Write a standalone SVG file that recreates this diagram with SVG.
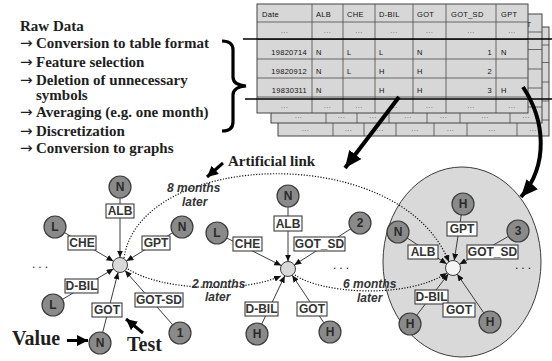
<svg xmlns="http://www.w3.org/2000/svg" xmlns:xlink="http://www.w3.org/1999/xlink" width="552" height="361" viewBox="0 0 552 361">
<style>
.bt{font-family:"Liberation Serif","Times New Roman",serif;font-weight:bold;fill:#1e1e1e}
.st{font-size:15px}
.ar{font-family:"DejaVu Sans",sans-serif;font-weight:normal;font-size:15px}
.tt{font-family:"Liberation Sans",Arial,sans-serif;font-size:7.5px;fill:#111;letter-spacing:0.3px}
.te{font-family:"Liberation Sans",Arial,sans-serif;font-size:7.5px;fill:#111;letter-spacing:0.3px;text-anchor:end}
.td{font-family:"Liberation Sans",Arial,sans-serif;font-size:7.5px;fill:#666;text-anchor:middle;letter-spacing:0.4px}
.conn{stroke:#3c3c3c;stroke-width:1;fill:none;marker-end:url(#ah)}
.dot{stroke:#111;stroke-width:1.2;fill:none;stroke-dasharray:1.2 1.6;marker-end:url(#ah)}
.box{fill:#fff;stroke:#3c3c3c;stroke-width:1.1}
.bl{font-family:"Liberation Sans",Arial,sans-serif;font-weight:bold;font-size:12px;fill:#333;text-anchor:middle}
.nd{fill:#8a8a8a;stroke:#3c3c3c;stroke-width:1.2}
.nl{font-family:"Liberation Sans",Arial,sans-serif;font-weight:bold;font-size:12px;fill:#2a2a2a;text-anchor:middle}
.hub{fill:#d9d9d9;stroke:#3c3c3c;stroke-width:1}
.it{font-family:"Liberation Sans",Arial,sans-serif;font-weight:bold;font-style:italic;font-size:12px;fill:#333}
.el{font-family:"Liberation Sans",Arial,sans-serif;font-size:12px;fill:#111;letter-spacing:3px}
</style>
<defs>
<marker id="ah" markerUnits="userSpaceOnUse" markerWidth="7" markerHeight="6" refX="7" refY="3" orient="auto"><path d="M0,0L7,3L0,6z" fill="#111"/></marker>
<marker id="big" markerUnits="userSpaceOnUse" markerWidth="18" markerHeight="15" refX="17" refY="7.5" orient="auto"><path d="M0,0L17,7.5L0,15z" fill="#000"/></marker>
<marker id="med" markerUnits="userSpaceOnUse" markerWidth="12" markerHeight="11" refX="11" refY="5.5" orient="auto"><path d="M0,0L11,5.5L0,11z" fill="#000"/></marker>
<g id="grid">
<rect x="257" y="4" width="271" height="109" fill="#d7d7d7" stroke="#444" stroke-width="1"/>
<path d="M312,4V113M343,4V113M375,4V113M413,4V113M446,4V113M496,4V113M257,22H528M257,39.5H528M257,59H528M257,78H528M257,97H528" stroke="#4a4a4a" stroke-width="0.8" fill="none"/>
<text class="tt" y="17"><tspan x="262">Date</tspan><tspan x="316">ALB</tspan><tspan x="347">CHE</tspan><tspan x="379">D-BIL</tspan><tspan x="417">GOT</tspan><tspan x="451">GOT_SD</tspan><tspan x="501">GPT</tspan></text>
<text class="td" y="33"><tspan x="284.5">...</tspan><tspan x="327.5">...</tspan><tspan x="359">...</tspan><tspan x="394">...</tspan><tspan x="429.5">...</tspan><tspan x="471">...</tspan><tspan x="512">...</tspan></text>
<text class="td" y="107.5"><tspan x="284.5">...</tspan><tspan x="327.5">...</tspan><tspan x="359">...</tspan><tspan x="394">...</tspan><tspan x="429.5">...</tspan><tspan x="471">...</tspan><tspan x="512">...</tspan></text>
</g>
</defs>

<g id="raw-data-text">
<text class="bt st" x="20" y="31">Raw Data</text>
<text class="bt st" y="48"><tspan class="ar" x="20">→</tspan><tspan x="36">Conversion to table format</tspan></text>
<text class="bt st" y="66.5"><tspan class="ar" x="20">→</tspan><tspan x="36">Feature selection</tspan></text>
<text class="bt st" y="85"><tspan class="ar" x="20">→</tspan><tspan x="36">Deletion of unnecessary</tspan><tspan x="36" y="99.5">symbols</tspan></text>
<text class="bt st" y="117"><tspan class="ar" x="20">→</tspan><tspan x="36">Averaging (e.g. one month)</tspan></text>
<text class="bt st" y="136"><tspan class="ar" x="20">→</tspan><tspan x="36">Discretization</tspan></text>
<text class="bt st" y="153"><tspan class="ar" x="20">→</tspan><tspan x="36">Conversion to graphs</tspan></text>
</g>

<g id="brace">
<path d="M222,41 Q233,41 233,50 L233,77 Q233,85 246,86 Q233,87 233,95 L233,122 Q233,131 222,131" fill="none" stroke="#000" stroke-width="3.2"/>
</g>

<g id="tables">
<use xlink:href="#grid" transform="translate(21,23)"/>
<use xlink:href="#grid" transform="translate(14,10)"/>
<use xlink:href="#grid"/>
<text class="te" x="307" y="55">19820714</text>
<text class="te" x="307" y="74">19820912</text>
<text class="te" x="307" y="93">19830311</text>
<text class="tt" y="55"><tspan x="316">N</tspan><tspan x="347">L</tspan><tspan x="379">L</tspan><tspan x="417">N</tspan><tspan x="501">N</tspan></text>
<text class="tt" y="74"><tspan x="316">N</tspan><tspan x="347">L</tspan><tspan x="379">H</tspan><tspan x="417">H</tspan></text>
<text class="tt" y="93"><tspan x="316">N</tspan><tspan x="379">H</tspan><tspan x="417">H</tspan><tspan x="501">H</tspan></text>
<text class="te" x="492" y="55">1</text>
<text class="te" x="492" y="74">2</text>
<text class="te" x="492" y="93">3</text>
<path d="M243,39H552M245,99H552" stroke="#000" stroke-width="1.6"/>
</g>

<g id="graph3-area">
<ellipse cx="462" cy="262" rx="79" ry="95" fill="#d9d9d9" stroke="#3c3c3c" stroke-width="1"/>
</g>

<g id="connectors">
<path d="M399,97 L345,168" stroke="#000" stroke-width="4" fill="none" marker-end="url(#big)"/>
<path d="M523,87 C545,120 549,165 521,197" stroke="#000" stroke-width="4" fill="none" marker-end="url(#big)"/>
<path d="M223,163 L207,177" stroke="#000" stroke-width="3" marker-end="url(#med)"/>
<path d="M67,340.5 L88,340.5" stroke="#000" stroke-width="3" marker-end="url(#med)"/>
<path d="M143,333 L126,319" stroke="#000" stroke-width="3" marker-end="url(#med)"/>
<path class="dot" d="M124,258 C140,150 400,140 449,262"/>
<path class="dot" d="M128,269 C160,290 240,294 281,276"/>
<path class="dot" d="M295,275 C320,293 405,300 447,273"/>
<line class="conn" x1="120" y1="198" x2="120" y2="257.5"/>
<line class="conn" x1="64.5" y1="232.6" x2="113.5" y2="261.2"/>
<line class="conn" x1="172.6" y1="232.8" x2="126.4" y2="261.1"/>
<line class="conn" x1="62.4" y1="299.4" x2="113.6" y2="268.8"/>
<line class="conn" x1="102.7" y1="332.3" x2="118.1" y2="272.3"/>
<line class="conn" x1="172.7" y1="324.8" x2="125" y2="270.6"/>
<line class="conn" x1="288" y1="207" x2="288" y2="261.5"/>
<line class="conn" x1="226.8" y1="238" x2="281.3" y2="265.6"/>
<line class="conn" x1="350.7" y1="228.9" x2="294.3" y2="265"/>
<line class="conn" x1="261.7" y1="324.1" x2="284.8" y2="275.8"/>
<line class="conn" x1="323.9" y1="322.8" x2="292.2" y2="275.2"/>
<line class="conn" x1="461.3" y1="214.9" x2="454.2" y2="260.6"/>
<line class="conn" x1="407.2" y1="238" x2="446.7" y2="263.9"/>
<line class="conn" x1="508.4" y1="236.4" x2="459.5" y2="264.3"/>
<line class="conn" x1="416.7" y1="315.3" x2="448.4" y2="273.9"/>
<line class="conn" x1="483.8" y1="312.9" x2="457.2" y2="274.2"/>
</g>

<g id="labels">
<text class="bt st" x="228" y="166">Artificial link</text>
<text class="it" x="167" y="192">8 months</text>
<text class="it" x="182" y="206">later</text>
<text class="it" x="192" y="288">2 months</text>
<text class="it" x="205" y="301">later</text>
<text class="it" x="343" y="288">6 months</text>
<text class="it" x="357" y="302">later</text>
<text class="bt" x="12" y="345" font-size="20">Value</text>
<text class="bt" x="127" y="351" font-size="20">Test</text>
<text class="el" x="32" y="268">...</text>
<text class="el" x="333" y="269">...</text>
<text class="el" x="515" y="269">...</text>
</g>

<g id="graph1">
<circle class="hub" cx="120" cy="265" r="7.5"/>
<g id="g1-alb"><rect class="box" x="106" y="204" width="28" height="14"/><text class="bl" x="120" y="215.3">ALB</text></g>
<g id="g1-che"><rect class="box" x="68" y="236" width="28" height="14"/><text class="bl" x="82" y="247.3">CHE</text></g>
<g id="g1-gpt"><rect class="box" x="142" y="236" width="28" height="14"/><text class="bl" x="156" y="247.3">GPT</text></g>
<g id="g1-dbil"><rect class="box" x="65" y="279" width="33" height="14"/><text class="bl" x="81.5" y="290.3">D-BIL</text></g>
<g id="g1-got"><rect class="box" x="92" y="303" width="30" height="14"/><text class="bl" x="107" y="314.3">GOT</text></g>
<g id="g1-gotsd"><rect class="box" x="135" y="293" width="48" height="14"/><text class="bl" x="159" y="304.3">GOT-SD</text></g>
<g id="g1-n1"><circle class="nd" cx="120" cy="187" r="11"/><text class="nl" x="120" y="191.3">N</text></g>
<g id="g1-l1"><circle class="nd" cx="55" cy="227" r="11"/><text class="nl" x="55" y="231.3">L</text></g>
<g id="g1-n2"><circle class="nd" cx="182" cy="227" r="11"/><text class="nl" x="182" y="231.3">N</text></g>
<g id="g1-l2"><circle class="nd" cx="53" cy="305" r="11"/><text class="nl" x="53" y="309.3">L</text></g>
<g id="g1-n3"><circle class="nd" cx="100" cy="343" r="11"/><text class="nl" x="100" y="347.3">N</text></g>
<g id="g1-1"><circle class="nd" cx="180" cy="333" r="11"/><text class="nl" x="180" y="337.3">1</text></g>
</g>

<g id="graph2">
<circle class="hub" cx="288" cy="269" r="7.5"/>
<g id="g2-alb"><rect class="box" x="274" y="216" width="28" height="15"/><text class="bl" x="288" y="228">ALB</text></g>
<g id="g2-che"><rect class="box" x="233" y="237" width="29" height="14"/><text class="bl" x="247.5" y="248.3">CHE</text></g>
<g id="g2-gotsd"><rect class="box" x="294" y="237" width="51" height="14"/><text class="bl" x="319.5" y="248.3">GOT_SD</text></g>
<g id="g2-dbil"><rect class="box" x="245" y="302" width="33" height="14"/><text class="bl" x="261.5" y="313.3">D-BIL</text></g>
<g id="g2-got"><rect class="box" x="297" y="302" width="30" height="14"/><text class="bl" x="312" y="313.3">GOT</text></g>
<g id="g2-n"><circle class="nd" cx="288" cy="196" r="11"/><text class="nl" x="288" y="200.3">N</text></g>
<g id="g2-l"><circle class="nd" cx="217" cy="233" r="11"/><text class="nl" x="217" y="237.3">L</text></g>
<g id="g2-2"><circle class="nd" cx="360" cy="223" r="11"/><text class="nl" x="360" y="227.3">2</text></g>
<g id="g2-h1"><circle class="nd" cx="257" cy="334" r="11"/><text class="nl" x="257" y="338.3">H</text></g>
<g id="g2-h2"><circle class="nd" cx="330" cy="332" r="11"/><text class="nl" x="330" y="336.3">H</text></g>
</g>

<g id="graph3">
<circle class="hub" cx="453" cy="268" r="7.5" style="fill:#f4f4f4"/>
<g id="g3-gpt"><rect class="box" x="447" y="222" width="30" height="14"/><text class="bl" x="462" y="233.3">GPT</text></g>
<g id="g3-alb"><rect class="box" x="408" y="245" width="30" height="14"/><text class="bl" x="423" y="256.3">ALB</text></g>
<g id="g3-gotsd"><rect class="box" x="467" y="245" width="51" height="14"/><text class="bl" x="492.5" y="256.3">GOT_SD</text></g>
<g id="g3-dbil"><rect class="box" x="415" y="290" width="33" height="14"/><text class="bl" x="431.5" y="301.3">D-BIL</text></g>
<g id="g3-got"><rect class="box" x="443" y="303" width="32" height="14"/><text class="bl" x="459" y="314.3">GOT</text></g>
<g id="g3-h1"><circle class="nd" cx="463" cy="204" r="11"/><text class="nl" x="463" y="208.3">H</text></g>
<g id="g3-n"><circle class="nd" cx="398" cy="232" r="11"/><text class="nl" x="398" y="236.3">N</text></g>
<g id="g3-3"><circle class="nd" cx="518" cy="231" r="11"/><text class="nl" x="518" y="235.3">3</text></g>
<g id="g3-h2"><circle class="nd" cx="410" cy="324" r="11"/><text class="nl" x="410" y="328.3">H</text></g>
<g id="g3-h3"><circle class="nd" cx="490" cy="322" r="11"/><text class="nl" x="490" y="326.3">H</text></g>
</g>
</svg>
